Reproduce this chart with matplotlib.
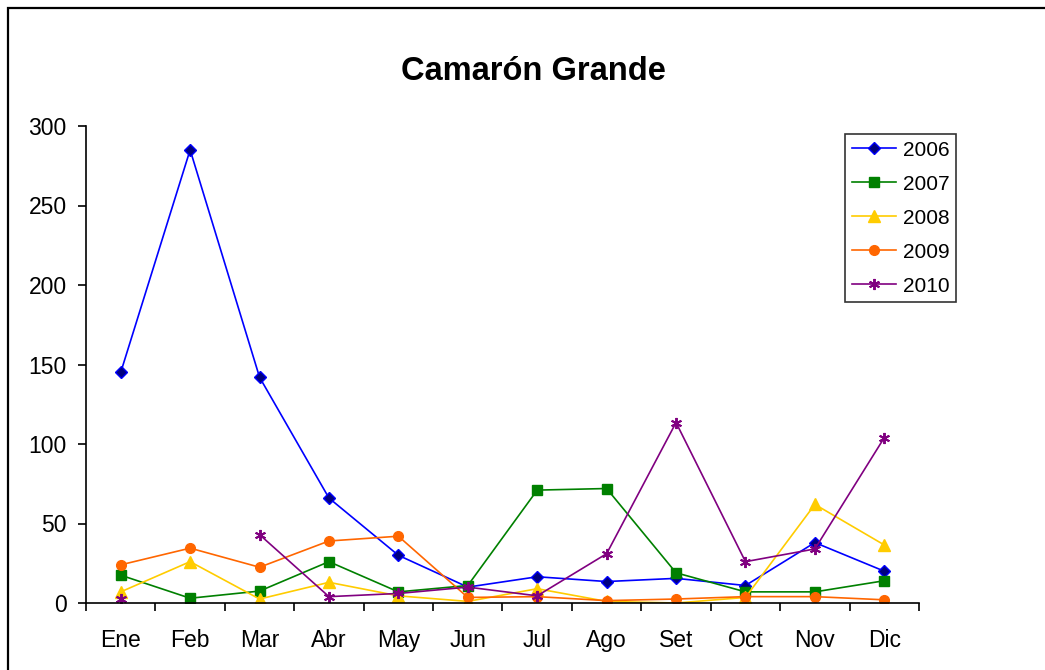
import numpy as np
import matplotlib
matplotlib.use("Agg")
import matplotlib.pyplot as plt
from matplotlib.patches import Rectangle

plt.rcParams.update({
    "font.family": ["Liberation Sans", "DejaVu Sans"],
})

months = ["Ene", "Feb", "Mar", "Abr", "May", "Jun", "Jul", "Ago", "Set", "Oct", "Nov", "Dic"]
y2006 = [145, 285, 142, 66, 30, 10, 16.5, 13.5, 15.5, 11, 38, 20]
y2007 = [17.5, 3, 7.5, 26, 7, 11, 71, 72, 19, 7, 7, 14]
y2008 = [7, 26, 2.5, 13, 4.5, 1, 9, 1, 0, 3.5, 62, 36.5]
y2009 = [24, 34.5, 22.5, 39, 42, 3.5, 4, 1.5, 2.5, 4, 4, 2]
y2010 = [2.5, np.nan, 43, 4, 6, 10, 4.5, 31, 113.5, 26, 34, 104]

W, H = 1045, 670
fig = plt.figure(figsize=(W / 100, H / 100), dpi=100)

# outer chart border (right and bottom run off the picture)
fig.patches.append(Rectangle((8 / W, -0.05), 1.2, 1 - 8 / H + 0.05,
                             transform=fig.transFigure, fill=False,
                             edgecolor="black", lw=1.6))

ax = fig.add_axes([86 / W, (H - 603) / H, 833 / W, 477 / H])
x = np.arange(len(months))

series = [
    ("2006", y2006, dict(color="#0000FF", marker="D", mfc="#000080", mec="#0000FF", ms=6.5)),
    ("2007", y2007, dict(color="#008000", marker="s", mfc="#008000", mec="#008000", ms=6.5)),
    ("2008", y2008, dict(color="#FFCC00", marker="^", mfc="#FFCC00", mec="#FFCC00", ms=8)),
    ("2009", y2009, dict(color="#FF6600", marker="o", mfc="#FF6600", mec="#FF6600", ms=7)),
    ("2010", y2010, dict(color="#800080", marker=(6, 2, 0), mfc="#800080", mec="#800080", ms=8, mew=1.4)),
]
for name, vals, st in series:
    ax.plot(x, vals, lw=1.2, label=name, **st)

ax.set_xlim(-0.5, len(months) - 0.5)
ax.set_ylim(0, 300)
ax.set_yticks([0, 50, 100, 150, 200, 250, 300])
ax.set_xticks(x)
ax.set_xticklabels(months)
ax.set_xticks(np.arange(-0.5, len(months)), minor=True)
ax.tick_params(axis="x", which="major", length=0, pad=19, labelsize=16.5)
ax.tick_params(axis="x", which="minor", length=6, width=1.2, direction="out")
ax.tick_params(axis="y", length=6, width=1.2, direction="out", pad=8, labelsize=16.5)
for s in ["top", "right"]:
    ax.spines[s].set_visible(False)
for s in ["left", "bottom"]:
    ax.spines[s].set_linewidth(1.2)

fig.text(533 / W, 1 - 72 / H, "Camarón Grande", ha="center", va="center",
         fontsize=23.5, fontweight="bold")

leg = fig.legend(loc="upper left", bbox_to_anchor=(845 / W, 1 - 134 / H),
                 frameon=True, fancybox=False, fontsize=15, handlelength=2.15,
                 labelspacing=0.72, borderpad=0.32, handletextpad=0.3,
                 borderaxespad=0)
leg.get_frame().set_edgecolor("black")
leg.get_frame().set_linewidth(1.2)

fig.savefig("out.png", dpi=100)
